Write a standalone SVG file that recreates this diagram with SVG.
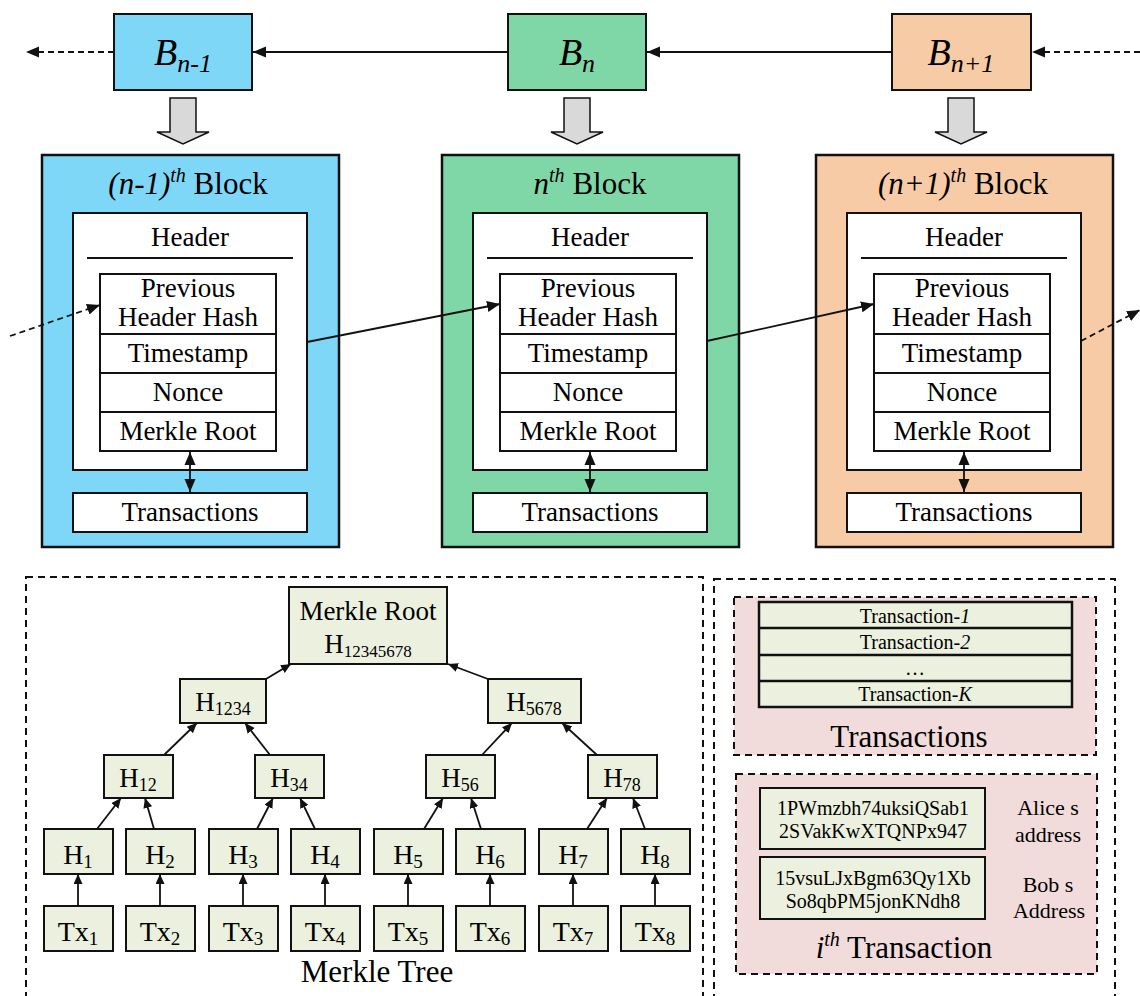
<svg xmlns="http://www.w3.org/2000/svg" width="1140" height="996" viewBox="0 0 1140 996" font-family="'Liberation Serif', 'DejaVu Serif', serif">
  <style>
    text { font-family: "Liberation Serif", "DejaVu Serif", serif; fill: #000; }
    .box { stroke: #111; stroke-width: 2; }
    .outer { stroke: #111; stroke-width: 2.5; }
    .white { fill: #fff; }
    .blue { fill: #7fd7f7; }
    .green { fill: #7fd7a7; }
    .peach { fill: #f8cba7; }
    .leaf { fill: #ebf1de; stroke: #111; stroke-width: 2; }
    .pink { fill: #f2dcdb; stroke: #111; stroke-width: 2; stroke-dasharray: 7 5; }
    .frame { fill: none; stroke: #111; stroke-width: 2; stroke-dasharray: 7 5; }
    .link { stroke: #111; stroke-width: 1.8; fill: none; }
    .dash { stroke-dasharray: 6 4; }
    .t26 { font-size: 27px; }
    .mid { text-anchor: middle; }
    .it { font-style: italic; }
  </style>
  <defs>
    <marker id="head" markerUnits="userSpaceOnUse" markerWidth="14" markerHeight="12" refX="13" refY="5.5" orient="auto">
      <path d="M0,0 L13,5.5 L0,11 z" fill="#111"/>
    </marker>
    <marker id="headStart" markerUnits="userSpaceOnUse" markerWidth="14" markerHeight="12" refX="0" refY="5.5" orient="auto">
      <path d="M13,0 L0,5.5 L13,11 z" fill="#111"/>
    </marker>
    <marker id="small" markerUnits="userSpaceOnUse" markerWidth="11" markerHeight="10" refX="10" refY="4.5" orient="auto">
      <path d="M0,0 L10,4.5 L0,9 z" fill="#111"/>
    </marker>
    <!-- one block body, drawn at the left column -->
    <g id="blockBody">
      <rect class="white box" x="73" y="213" width="234" height="257"/>
      <text class="t26 mid" x="190" y="246">Header</text>
      <line x1="87" y1="258" x2="293" y2="258" stroke="#111" stroke-width="2"/>
      <rect class="white box" x="100" y="274" width="176" height="60"/>
      <text class="t26 mid" x="188" y="297">Previous</text>
      <text class="t26 mid" x="188" y="326">Header Hash</text>
      <rect class="white box" x="100" y="334" width="176" height="39"/>
      <text class="t26 mid" x="188" y="362">Timestamp</text>
      <rect class="white box" x="100" y="373" width="176" height="39"/>
      <text class="t26 mid" x="188" y="401">Nonce</text>
      <rect class="white box" x="100" y="412" width="176" height="39"/>
      <text class="t26 mid" x="188" y="440">Merkle Root</text>
      <rect class="white box" x="73" y="493" width="234" height="39"/>
      <text class="t26 mid" x="190" y="521">Transactions</text>
      <line class="link" x1="190" y1="452" x2="190" y2="492" marker-start="url(#headStart)" marker-end="url(#head)"/>
    </g>
    <path id="bigDown" d="M-13,98 H13 V132 H26 L0,144 L-26,132 H-13 Z" fill="#d9d9d9" stroke="#111" stroke-width="1.5"/>
  </defs>

  <!-- chain of block references -->
  <g id="b-prev">
    <rect class="blue box" x="114" y="14" width="138" height="76"/>
    <text class="mid" x="183" y="65"><tspan class="it" font-size="38">B</tspan><tspan class="it" font-size="26" dy="7">n-1</tspan></text>
    <use href="#bigDown" x="183"/>
  </g>
  <g id="b-cur">
    <rect class="green box" x="508" y="14" width="138" height="76"/>
    <text class="mid" x="577" y="65"><tspan class="it" font-size="38">B</tspan><tspan class="it" font-size="26" dy="7">n</tspan></text>
    <use href="#bigDown" x="577"/>
  </g>
  <g id="b-next">
    <rect class="peach box" x="892" y="14" width="139" height="76"/>
    <text class="mid" x="961" y="65"><tspan class="it" font-size="38">B</tspan><tspan class="it" font-size="26" dy="7">n+1</tspan></text>
    <use href="#bigDown" x="961"/>
  </g>

  <!-- block bodies -->
  <g id="block-prev">
    <rect class="blue outer" x="42" y="155" width="297" height="392"/>
    <text class="mid" x="188" y="194" font-size="31"><tspan class="it">(n-1)</tspan><tspan class="it" font-size="20" dy="-12">th</tspan><tspan dy="12"> Block</tspan></text>
    <use href="#blockBody"/>
  </g>
  <g id="block-cur">
    <rect class="green outer" x="442" y="155" width="297" height="392"/>
    <text class="mid" x="590" y="194" font-size="31"><tspan class="it">n</tspan><tspan class="it" font-size="20" dy="-12">th</tspan><tspan dy="12"> Block</tspan></text>
    <use href="#blockBody" x="400"/>
  </g>
  <g id="block-next">
    <rect class="peach outer" x="816" y="155" width="297" height="392"/>
    <text class="mid" x="963" y="194" font-size="31"><tspan class="it">(n+1)</tspan><tspan class="it" font-size="20" dy="-12">th</tspan><tspan dy="12"> Block</tspan></text>
    <use href="#blockBody" x="774"/>
  </g>

  <!-- Merkle tree -->
  <g id="merkle-frame">
    <rect class="frame" x="26" y="577" width="677" height="440"/>
    <text class="mid" x="377" y="982" font-size="31">Merkle Tree</text>
  </g>
  <g id="root">
    <rect class="leaf" x="289" y="587" width="158" height="77"/>
    <text class="mid" x="368" y="620" font-size="27">Merkle Root</text>
    <text class="mid" x="368" y="653" font-size="27">H<tspan font-size="17" dy="4">12345678</tspan></text>
  </g>
  <g id="h1234">
    <rect class="leaf" x="180" y="679" width="86" height="44"/>
    <text class="mid" x="223" y="711" font-size="27">H<tspan font-size="18" dy="4">1234</tspan></text>
  </g>
  <g id="h5678">
    <rect class="leaf" x="488" y="679" width="93" height="44"/>
    <text class="mid" x="534" y="711" font-size="27">H<tspan font-size="18" dy="4">5678</tspan></text>
  </g>
  <g id="h12">
    <rect class="leaf" x="104" y="755" width="69" height="43"/>
    <text class="mid" x="138" y="787" font-size="27">H<tspan font-size="18" dy="4">12</tspan></text>
  </g>
  <g id="h34">
    <rect class="leaf" x="255" y="755" width="69" height="43"/>
    <text class="mid" x="289" y="787" font-size="27">H<tspan font-size="18" dy="4">34</tspan></text>
  </g>
  <g id="h56">
    <rect class="leaf" x="426" y="755" width="69" height="43"/>
    <text class="mid" x="460" y="787" font-size="27">H<tspan font-size="18" dy="4">56</tspan></text>
  </g>
  <g id="h78">
    <rect class="leaf" x="588" y="755" width="69" height="43"/>
    <text class="mid" x="622" y="787" font-size="27">H<tspan font-size="18" dy="4">78</tspan></text>
  </g>
  <g id="h1"><rect class="leaf" x="44" y="829" width="69" height="45"/><text class="mid" x="78" y="864" font-size="28">H<tspan font-size="19" dy="4">1</tspan></text></g>
  <g id="h2"><rect class="leaf" x="126" y="829" width="69" height="45"/><text class="mid" x="160" y="864" font-size="28">H<tspan font-size="19" dy="4">2</tspan></text></g>
  <g id="h3"><rect class="leaf" x="209" y="829" width="69" height="45"/><text class="mid" x="243" y="864" font-size="28">H<tspan font-size="19" dy="4">3</tspan></text></g>
  <g id="h4"><rect class="leaf" x="291" y="829" width="69" height="45"/><text class="mid" x="325" y="864" font-size="28">H<tspan font-size="19" dy="4">4</tspan></text></g>
  <g id="h5"><rect class="leaf" x="374" y="829" width="69" height="45"/><text class="mid" x="408" y="864" font-size="28">H<tspan font-size="19" dy="4">5</tspan></text></g>
  <g id="h6"><rect class="leaf" x="456" y="829" width="69" height="45"/><text class="mid" x="490" y="864" font-size="28">H<tspan font-size="19" dy="4">6</tspan></text></g>
  <g id="h7"><rect class="leaf" x="539" y="829" width="69" height="45"/><text class="mid" x="573" y="864" font-size="28">H<tspan font-size="19" dy="4">7</tspan></text></g>
  <g id="h8"><rect class="leaf" x="621" y="829" width="69" height="45"/><text class="mid" x="655" y="864" font-size="28">H<tspan font-size="19" dy="4">8</tspan></text></g>
  <g id="tx1"><rect class="leaf" x="44" y="906" width="69" height="45"/><text class="mid" x="78" y="941" font-size="28">Tx<tspan font-size="19" dy="4">1</tspan></text></g>
  <g id="tx2"><rect class="leaf" x="126" y="906" width="69" height="45"/><text class="mid" x="160" y="941" font-size="28">Tx<tspan font-size="19" dy="4">2</tspan></text></g>
  <g id="tx3"><rect class="leaf" x="209" y="906" width="69" height="45"/><text class="mid" x="243" y="941" font-size="28">Tx<tspan font-size="19" dy="4">3</tspan></text></g>
  <g id="tx4"><rect class="leaf" x="291" y="906" width="69" height="45"/><text class="mid" x="325" y="941" font-size="28">Tx<tspan font-size="19" dy="4">4</tspan></text></g>
  <g id="tx5"><rect class="leaf" x="374" y="906" width="69" height="45"/><text class="mid" x="408" y="941" font-size="28">Tx<tspan font-size="19" dy="4">5</tspan></text></g>
  <g id="tx6"><rect class="leaf" x="456" y="906" width="69" height="45"/><text class="mid" x="490" y="941" font-size="28">Tx<tspan font-size="19" dy="4">6</tspan></text></g>
  <g id="tx7"><rect class="leaf" x="539" y="906" width="69" height="45"/><text class="mid" x="573" y="941" font-size="28">Tx<tspan font-size="19" dy="4">7</tspan></text></g>
  <g id="tx8"><rect class="leaf" x="621" y="906" width="69" height="45"/><text class="mid" x="655" y="941" font-size="28">Tx<tspan font-size="19" dy="4">8</tspan></text></g>

  <!-- transaction list and one transaction -->
  <g id="tx-panel">
    <rect class="frame" x="714" y="579" width="401" height="440"/>
  </g>
  <g id="tx-list">
    <rect class="pink" x="734" y="597" width="362" height="158"/>
    <rect x="759" y="602" width="313" height="105" fill="#ebf1de" stroke="#111" stroke-width="2.5"/>
    <line x1="759" y1="628" x2="1072" y2="628" stroke="#111" stroke-width="2.5"/>
    <line x1="759" y1="655" x2="1072" y2="655" stroke="#111" stroke-width="2.5"/>
    <line x1="759" y1="681" x2="1072" y2="681" stroke="#111" stroke-width="2.5"/>
    <text class="mid" x="915" y="623" font-size="20">Transaction-<tspan class="it">1</tspan></text>
    <text class="mid" x="915" y="649" font-size="20">Transaction-<tspan class="it">2</tspan></text>
    <text class="mid" x="915" y="675" font-size="20">…</text>
    <text class="mid" x="915" y="701" font-size="20">Transaction-<tspan class="it">K</tspan></text>
    <text class="mid" x="909" y="747" font-size="31">Transactions</text>
  </g>
  <g id="tx-detail">
    <rect class="pink" x="736" y="774" width="361" height="200"/>
    <rect class="leaf" x="760" y="788" width="225" height="61"/>
    <text class="mid" x="873" y="815" font-size="20">1PWmzbh74uksiQSab1</text>
    <text class="mid" x="873" y="838" font-size="20">2SVakKwXTQNPx947</text>
    <text class="mid" x="1048" y="815" font-size="22">Alice s</text>
    <text class="mid" x="1048" y="842" font-size="22">address</text>
    <rect class="leaf" x="760" y="857" width="225" height="62"/>
    <text class="mid" x="873" y="885" font-size="20">15vsuLJxBgm63Qy1Xb</text>
    <text class="mid" x="873" y="908" font-size="20">So8qbPM5jonKNdh8</text>
    <text class="mid" x="1048" y="892" font-size="22">Bob s</text>
    <text class="mid" x="1049" y="918" font-size="22">Address</text>
    <text class="mid" x="904" y="958" font-size="31"><tspan class="it">i</tspan><tspan class="it" font-size="20" dy="-12">th</tspan><tspan dy="12"> Transaction</tspan></text>
  </g>

  <!-- connectors -->
  <g id="connectors">
    <line class="link dash" x1="114" y1="52" x2="26" y2="52" marker-end="url(#head)"/>
    <line class="link" x1="508" y1="52" x2="253" y2="52" marker-end="url(#head)"/>
    <line class="link" x1="892" y1="52" x2="647" y2="52" marker-end="url(#head)"/>
    <line class="link dash" x1="1140" y1="52" x2="1032" y2="52" marker-end="url(#head)"/>

    <line class="link dash" x1="10" y1="336" x2="100" y2="305" marker-end="url(#head)"/>
    <line class="link" x1="307" y1="342" x2="500" y2="304" marker-end="url(#head)"/>
    <line class="link" x1="707" y1="341" x2="874" y2="304" marker-end="url(#head)"/>
    <line class="link dash" x1="1081" y1="341" x2="1140" y2="310" marker-end="url(#head)"/>

    <line class="link" x1="266" y1="679" x2="291" y2="664" marker-end="url(#small)"/>
    <line class="link" x1="488" y1="679" x2="448" y2="664" marker-end="url(#small)"/>
    <line class="link" x1="164" y1="755" x2="197" y2="723" marker-end="url(#small)"/>
    <line class="link" x1="270" y1="755" x2="245" y2="723" marker-end="url(#small)"/>
    <line class="link" x1="482" y1="755" x2="512" y2="723" marker-end="url(#small)"/>
    <line class="link" x1="597" y1="755" x2="562" y2="723" marker-end="url(#small)"/>

    <line class="link" x1="97" y1="829" x2="121" y2="798" marker-end="url(#small)"/>
    <line class="link" x1="154" y1="829" x2="145" y2="798" marker-end="url(#small)"/>
    <line class="link" x1="257" y1="829" x2="273" y2="798" marker-end="url(#small)"/>
    <line class="link" x1="315" y1="829" x2="300" y2="798" marker-end="url(#small)"/>
    <line class="link" x1="424" y1="829" x2="443" y2="798" marker-end="url(#small)"/>
    <line class="link" x1="481" y1="829" x2="471" y2="798" marker-end="url(#small)"/>
    <line class="link" x1="587" y1="829" x2="607" y2="798" marker-end="url(#small)"/>
    <line class="link" x1="645" y1="829" x2="633" y2="798" marker-end="url(#small)"/>

    <line class="link" x1="78" y1="906" x2="78" y2="874" marker-end="url(#small)"/>
    <line class="link" x1="160" y1="906" x2="160" y2="874" marker-end="url(#small)"/>
    <line class="link" x1="243" y1="906" x2="243" y2="874" marker-end="url(#small)"/>
    <line class="link" x1="325" y1="906" x2="325" y2="874" marker-end="url(#small)"/>
    <line class="link" x1="408" y1="906" x2="408" y2="874" marker-end="url(#small)"/>
    <line class="link" x1="490" y1="906" x2="490" y2="874" marker-end="url(#small)"/>
    <line class="link" x1="573" y1="906" x2="573" y2="874" marker-end="url(#small)"/>
    <line class="link" x1="655" y1="906" x2="655" y2="874" marker-end="url(#small)"/>
  </g>
</svg>
